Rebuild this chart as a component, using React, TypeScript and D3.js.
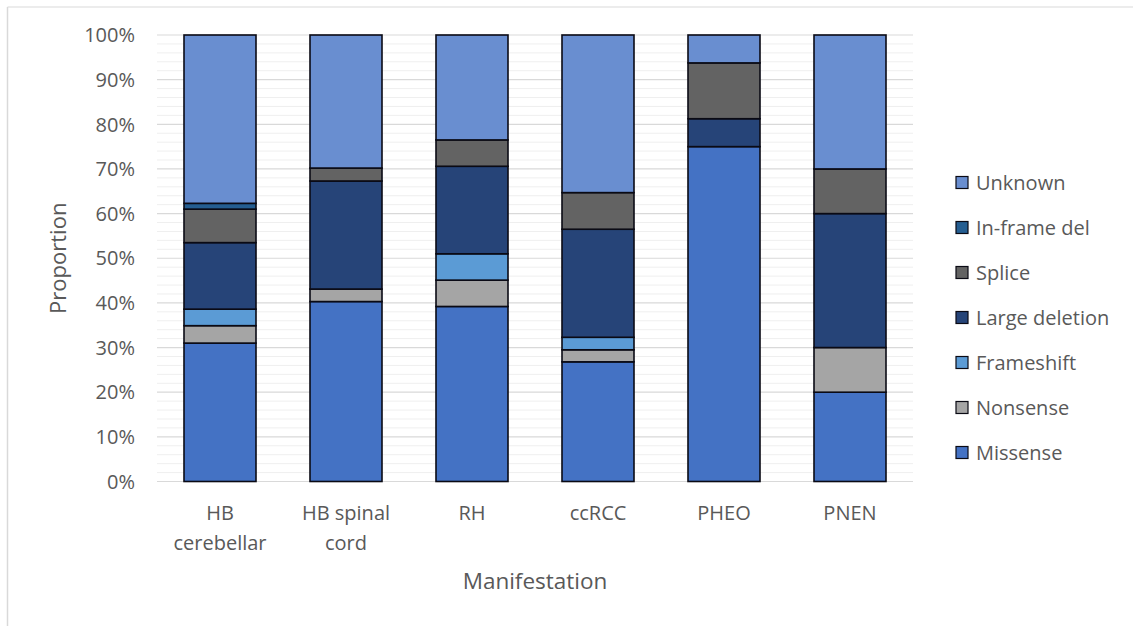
import React from "react";
import * as d3 from "d3";

// Manifestation categories along the x axis (two-line labels)
const categories = ["HB cerebellar", "HB spinal cord", "RH", "ccRCC", "PHEO", "PNEN"];
const categoryLines = [["HB", "cerebellar"], ["HB spinal", "cord"], ["RH"], ["ccRCC"], ["PHEO"], ["PNEN"]];

// Proportion (%) of each variant type per manifestation, stacked bottom to top
const seriesKeys = ["Missense", "Nonsense", "Frameshift", "Large deletion", "Splice", "In-frame del", "Unknown"];
const missense = [31.0, 40.3, 39.2, 26.8, 75.0, 20.0];
const nonsense = [3.9, 2.8, 5.9, 2.7, 0, 10.0];
const frameshift = [3.7, 0, 5.9, 2.8, 0, 0];
const largeDeletion = [14.9, 24.2, 19.6, 24.2, 6.25, 30.0];
const splice = [7.5, 2.9, 5.9, 8.2, 12.5, 10.0];
const inframeDel = [1.3, 0, 0, 0, 0, 0];
const unknown = [37.7, 29.8, 23.5, 35.3, 6.25, 30.0];

const seriesValues = [missense, nonsense, frameshift, largeDeletion, splice, inframeDel, unknown];
const seriesColors = ["#4472C4", "#A5A5A5", "#5B9BD5", "#264478", "#636363", "#255E91", "#698ED0"];

const yTicks = [0, 10, 20, 30, 40, 50, 60, 70, 80, 90, 100];
const yMinorTicks = d3.range(0, 101, 2);

const FONT = "'Open Sans', sans-serif";
const TEXT = "#595959";

export default function App() {
  const width = 1133;
  const height = 626;
  const plot = { left: 157, right: 913, top: 35, bottom: 481.5 };

  const rows = categories.map((c, i) => {
    const r: Record<string, any> = { category: c };
    seriesKeys.forEach((k, j) => (r[k] = seriesValues[j][i]));
    return r;
  });
  const stacked = d3.stack<any>().keys(seriesKeys)(rows);

  const x = d3
    .scaleBand<string>()
    .domain(categories)
    .range([plot.left, plot.right])
    .paddingInner(54 / 126)
    .paddingOuter(27 / 126);
  const y = d3.scaleLinear().domain([0, 100]).range([plot.bottom, plot.top]);

  const legendKeys = seriesKeys.slice().reverse();

  return (
    <svg width={width} height={height} style={{ display: "block", position: "absolute", left: 0, top: 0 }}>
      <rect x={0} y={0} width={width} height={height} fill="#ffffff" />
      {/* chart frame */}
      <line x1={7.5} x2={width} y1={7} y2={7} stroke="#e6e6e6" strokeWidth={1.5} />
      <line x1={7.5} x2={7.5} y1={7} y2={height} stroke="#d9d9d9" strokeWidth={1.5} />

      {/* minor gridlines */}
      {yMinorTicks
        .filter((t) => t % 10 !== 0)
        .map((t) => (
          <line key={"m" + t} x1={plot.left} x2={plot.right} y1={y(t)} y2={y(t)} stroke="#efefef" strokeWidth={1} />
        ))}
      {/* major gridlines */}
      {yTicks.map((t) => (
        <line key={"g" + t} x1={plot.left} x2={plot.right} y1={y(t)} y2={y(t)} stroke="#d9d9d9" strokeWidth={1.2} />
      ))}

      {/* y tick labels */}
      {yTicks.map((t) => (
        <text
          key={"t" + t}
          x={135}
          y={y(t)}
          dy="0.36em"
          textAnchor="end"
          fontFamily={FONT}
          fontSize={20}
          fill={TEXT}
        >
          {t + "%"}
        </text>
      ))}

      {/* stacked bars */}
      {stacked.map((s, si) => (
        <g key={s.key} fill={seriesColors[si]}>
          {s.map((d, i) =>
            d[1] - d[0] > 0 ? (
              <rect
                key={i}
                x={x(categories[i])!}
                width={x.bandwidth()}
                y={y(d[1])}
                height={y(d[0]) - y(d[1])}
                stroke="#0a0a14"
                strokeWidth={1.6}
              />
            ) : null
          )}
        </g>
      ))}

      {/* x category labels */}
      {categories.map((c, i) => (
        <text
          key={c}
          x={x(c)! + x.bandwidth() / 2}
          textAnchor="middle"
          fontFamily={FONT}
          fontSize={20}
          fill={TEXT}
        >
          {categoryLines[i].map((ln, k) => (
            <tspan key={k} x={x(c)! + x.bandwidth() / 2} y={520 + k * 30}>
              {ln}
            </tspan>
          ))}
        </text>
      ))}

      {/* axis titles */}
      <text x={(plot.left + plot.right) / 2} y={589} textAnchor="middle" fontFamily={FONT} fontSize={22.5} fill={TEXT}>
        Manifestation
      </text>
      <text
        transform={`translate(66, ${(plot.top + plot.bottom) / 2}) rotate(-90)`}
        textAnchor="middle"
        fontFamily={FONT}
        fontSize={22}
        fill={TEXT}
      >
        Proportion
      </text>

      {/* legend */}
      {legendKeys.map((k, i) => {
        const cy = 182.5 + i * 45;
        const color = seriesColors[seriesKeys.indexOf(k)];
        return (
          <g key={k}>
            <rect x={956} y={cy - 6} width={12} height={12} fill={color} stroke="#0a0a14" strokeWidth={1.2} />
            <text x={976} y={cy} dy="0.36em" fontFamily={FONT} fontSize={20} fill={TEXT}>
              {k}
            </text>
          </g>
        );
      })}
    </svg>
  );
}
